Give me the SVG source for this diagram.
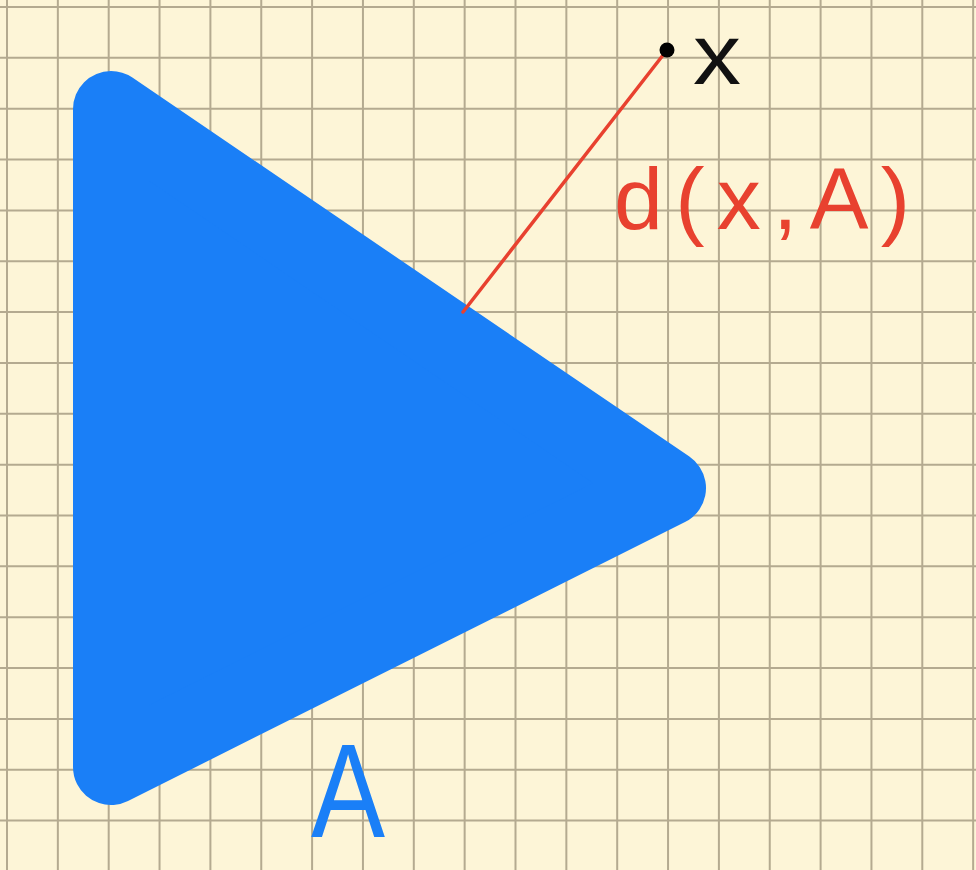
<svg xmlns="http://www.w3.org/2000/svg" width="976" height="870" viewBox="0 0 976 870">
<style>
.grid{stroke:#b4aa90;stroke-width:2;fill:none}
.shape{fill:#1a7ff7;stroke:#1a7ff7;stroke-width:76;stroke-linejoin:round}
.dist{stroke:#e8412f;stroke-width:3.5;stroke-linecap:round;fill:none}
.lbl{font-family:"Liberation Sans",Arial,sans-serif}
</style>
<rect width="976" height="870" fill="#fdf5d7"/>
<g id="grid">
<path class="grid" d="M7 0V870M57.85 0V870M108.7 0V870M159.55 0V870M210.4 0V870M261.25 0V870M312.1 0V870M362.95 0V870M413.8 0V870M464.65 0V870M515.5 0V870M566.35 0V870M617.2 0V870M668.05 0V870M718.9 0V870M769.75 0V870M820.6 0V870M871.45 0V870M922.3 0V870M973.15 0V870
M0 7H976M0 57.85H976M0 108.7H976M0 159.55H976M0 210.4H976M0 261.25H976M0 312.1H976M0 362.95H976M0 413.8H976M0 464.65H976M0 515.5H976M0 566.35H976M0 617.2H976M0 668.05H976M0 718.9H976M0 769.75H976M0 820.6H976"/>
</g>
<g id="setA">
<polygon class="shape" points="111,109 668,488 111,767"/>
<text class="lbl" x="311" y="837" font-size="134" fill="#1a7ff7" textLength="74" lengthAdjust="spacingAndGlyphs">A</text>
</g>
<g id="connectors">
<line class="dist" x1="667" y1="50" x2="463" y2="312"/>
</g>
<g id="pointX">
<circle cx="667" cy="50" r="7.5" fill="#000"/>
<text class="lbl" x="693" y="84" font-size="86" fill="#111" textLength="48" lengthAdjust="spacingAndGlyphs">x</text>
</g>
<g id="distLabel">
<text class="lbl" x="614" y="229" font-size="88" fill="#e8412f" textLength="296" lengthAdjust="spacing">d(x,A)</text>
</g>
</svg>
